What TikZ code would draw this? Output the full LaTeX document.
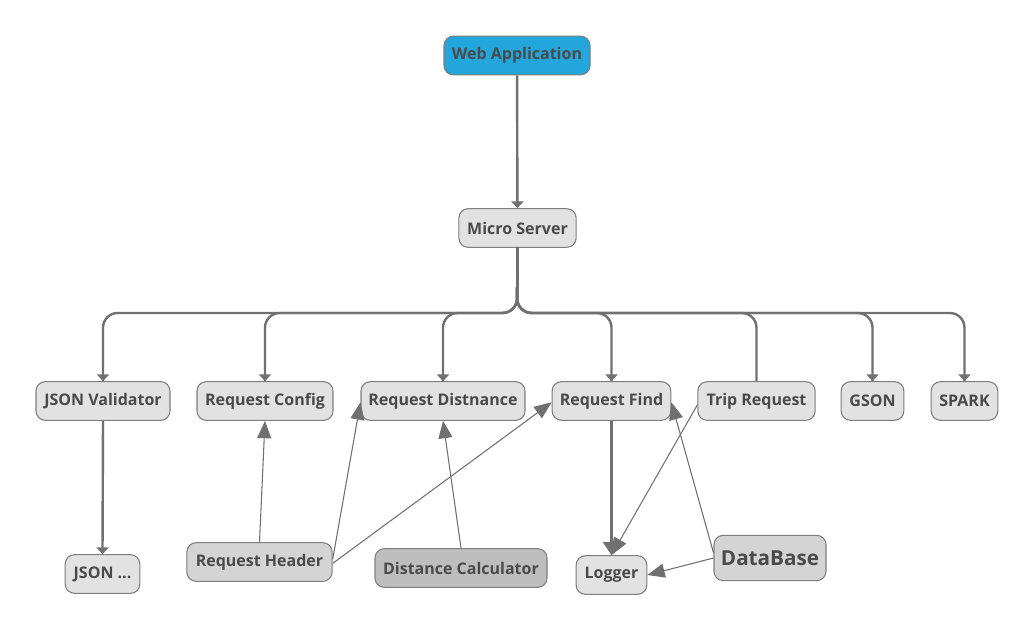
\documentclass[tikz,border=0pt]{standalone}
\usepackage{fontspec}
\setmainfont{Open Sans}
\usetikzlibrary{arrows.meta}
\usepackage{xcolor}
\definecolor{edgegray}{HTML}{707070}
\definecolor{boxgray}{HTML}{E2E2E2}
\definecolor{darkbox}{HTML}{D4D4D4}
\definecolor{calcbox}{HTML}{BEBEBE}
\definecolor{webblue}{HTML}{22A6DB}
\definecolor{textgray}{HTML}{4A4A4A}

\tikzset{
    box/.style={shape=rectangle,rounded corners=7pt,draw=edgegray!90,line width=0.8pt,
        fill=boxgray,text=textgray,font=\bfseries\fontsize{12}{14}\selectfont,
        minimum height=29pt,inner xsep=4pt},
    bus/.style={draw=edgegray,line width=1.8pt,rounded corners=11pt},
    thickarrow/.style={draw=edgegray,line width=1.8pt,-{Triangle[length=5pt,width=9pt]}},
    thinarrow/.style={draw=edgegray,line width=0.8pt,-{Triangle[length=13pt,width=10.5pt]}}
}

\begin{document}
\begin{tikzpicture}[x=0.75pt,y=-0.75pt]
        \useasboundingbox (0,0) rectangle (1036,632);

        \node[box,fill=webblue,minimum width=109.5pt] (web) at (517,55.5) {Web Application};
        \node[box,minimum width=88pt] (ms) at (517.5,228) {Micro Server};

        \node[box,minimum width=100.5pt] (jv) at (103,401) {JSON Validator};
        \node[box,minimum width=102pt] (rc) at (265,401) {Request Config};
        \node[box,minimum width=123pt] (rd) at (443,401) {Request Distnance};
        \node[box,minimum width=89pt] (rf) at (611.5,401) {Request Find};
        \node[box,minimum width=88pt] (tr) at (756.5,401) {Trip Request};
        \node[box,minimum width=47pt] (gson) at (872.5,401) {GSON};
        \node[box,minimum width=50pt] (spark) at (964.5,401) {SPARK};

        \node[box,minimum width=56pt] (jd) at (102.5,574) {JSON ...};
        \node[box,fill=darkbox,minimum width=109pt] (rh) at (259.5,562) {Request Header};
        \node[box,fill=calcbox,minimum width=129pt] (dc) at (461,568) {Distance Calculator};
        \node[box,minimum width=53pt] (log) at (611.5,575) {Logger};
        \node[box,fill=darkbox,minimum width=84pt,minimum height=34pt,
            font=\bfseries\fontsize{15.5}{17}\selectfont] (db) at (770,558) {DataBase};

        \coordinate (hub) at (517,313);

        \path [thickarrow] (web) -- (ms);

        \path [bus] (ms.south) -- (hub) -| (jv.north);
        \path [bus] (ms.south) -- (hub) -| (rc.north);
        \path [bus] (ms.south) -- (hub) -| (rd.north);
        \path [bus] (ms.south) -- (hub) -| (rf.north);
        \path [bus] (ms.south) -- (hub) -| (gson.north);
        \path [bus] (ms.south) -- (hub) -| (spark.north);
        \path [bus] (ms.south) -- (hub) -| (tr.north);
        \path [thickarrow] ([yshift=4pt]jv.north) -- (jv.north);
        \path [thickarrow] ([yshift=4pt]rc.north) -- (rc.north);
        \path [thickarrow] ([yshift=4pt]rd.north) -- (rd.north);
        \path [thickarrow] ([yshift=4pt]rf.north) -- (rf.north);
        \path [thickarrow] ([yshift=4pt]gson.north) -- (gson.north);
        \path [thickarrow] ([yshift=4pt]spark.north) -- (spark.north);

        \path [thickarrow] (jv.south) -- (jd.north);
        \path [draw=edgegray,line width=1.8pt,-{Triangle[length=10pt,width=13pt]}] (rf.south) -- (log.north);

        \path [thinarrow] (rh.north) -- (rc.south);
        \path [thinarrow] ([yshift=2pt]rh.east) -- ([yshift=-1pt]rd.west);
        \path [thinarrow] ([yshift=-1pt]rh.east) -- ([yshift=-1pt]rf.west);
        \path [thinarrow] (dc.north) -- (rd.south);
        \path [thinarrow] ([yshift=-3pt]tr.west) -- (log.north);
        \path [thinarrow] ([yshift=4pt]db.west) -- ([yshift=-1pt]rf.east);
        \path [thinarrow] (db.west) -- (log.east);
    \end{tikzpicture}
\end{document}
